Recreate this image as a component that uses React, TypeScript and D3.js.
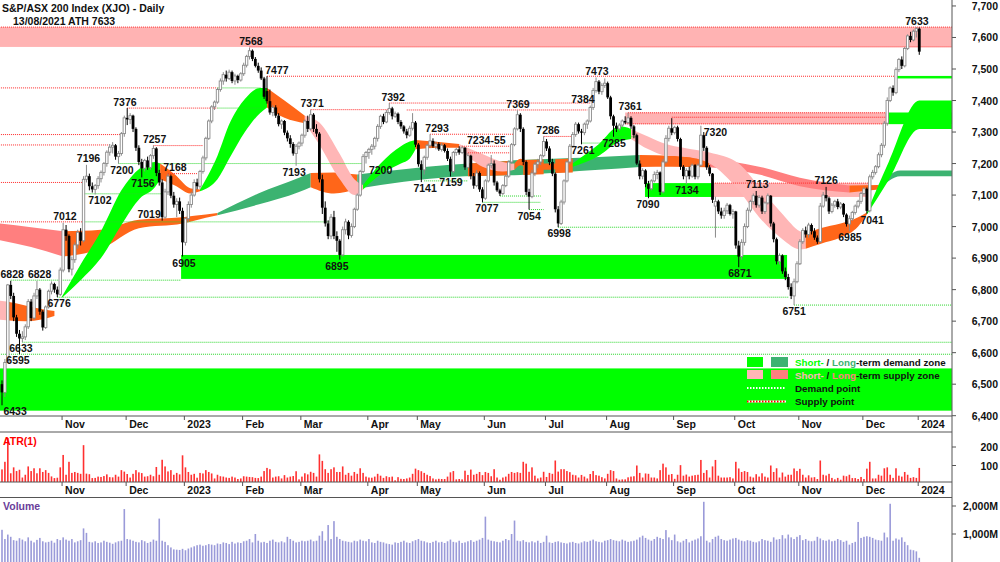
import React from "react";
import * as d3 from "d3";

// daily candles [open, high, low, close], one array per month
const oct2022 = [
  [6500, 6512, 6433, 6474], [6474, 6580, 6460, 6569], [6569, 6818, 6569, 6815], [6815, 6828, 6770, 6780],
  [6780, 6790, 6700, 6712], [6712, 6720, 6650, 6660], [6660, 6672, 6595, 6645], [6645, 6668, 6633, 6650],
  [6650, 6690, 6640, 6682], [6682, 6770, 6675, 6762], [6762, 6770, 6700, 6710], [6710, 6790, 6705, 6780],
  [6780, 6828, 6770, 6800], [6800, 6805, 6720, 6730], [6730, 6735, 6670, 6680], [6680, 6750, 6675, 6745],
  [6745, 6800, 6740, 6795], [6795, 6826, 6785, 6818], [6818, 6822, 6790, 6800], [6800, 6810, 6776, 6785],
  [6785, 6870, 6780, 6862], [6862, 7012, 6855, 6990],
];
const nov2022 = [
  [6990, 7005, 6955, 6970], [6970, 6975, 6855, 6865], [6865, 6905, 6845, 6895], [6895, 6950, 6885, 6942],
  [6942, 6990, 6930, 6982], [6982, 6995, 6940, 6955], [6955, 7160, 6950, 7150], [7150, 7196, 7140, 7160],
  [7160, 7168, 7115, 7128], [7128, 7140, 7108, 7118], [7118, 7135, 7102, 7130], [7130, 7160, 7120, 7152],
  [7152, 7178, 7140, 7172], [7172, 7205, 7162, 7200], [7200, 7242, 7190, 7236], [7236, 7262, 7225, 7252],
  [7252, 7268, 7232, 7258], [7258, 7262, 7212, 7222], [7222, 7240, 7200, 7232], [7232, 7300, 7225, 7295],
  [7295, 7352, 7285, 7345], [7345, 7376, 7322, 7340],
];
const dec2022 = [
  [7340, 7360, 7325, 7352], [7352, 7355, 7300, 7310], [7310, 7315, 7240, 7250], [7250, 7258, 7195, 7205],
  [7205, 7215, 7156, 7185], [7185, 7215, 7175, 7210], [7210, 7222, 7180, 7188], [7188, 7230, 7180, 7225],
  [7225, 7257, 7215, 7248], [7248, 7252, 7160, 7170], [7170, 7180, 7130, 7140], [7140, 7150, 7019, 7030],
  [7030, 7120, 7025, 7110], [7110, 7168, 7100, 7160], [7160, 7165, 7090, 7098], [7098, 7110, 7060, 7070],
  [7070, 7090, 7030, 7080], [7080, 7092, 7040, 7050], [7050, 7060, 6905, 6950], [6950, 7030, 6940, 7025],
];
const jan2023 = [
  [7025, 7080, 7015, 7070], [7070, 7110, 7060, 7100], [7100, 7150, 7095, 7140], [7140, 7152, 7118, 7128],
  [7128, 7180, 7120, 7175], [7175, 7225, 7168, 7218], [7218, 7285, 7210, 7280], [7280, 7340, 7275, 7335],
  [7335, 7385, 7328, 7380], [7380, 7400, 7370, 7395], [7395, 7440, 7390, 7435], [7435, 7470, 7428, 7462],
  [7462, 7490, 7450, 7482], [7482, 7495, 7460, 7470], [7470, 7498, 7465, 7490], [7490, 7495, 7455, 7462],
  [7462, 7485, 7450, 7478], [7478, 7482, 7455, 7465], [7465, 7490, 7460, 7485], [7485, 7520, 7478, 7512],
];
const feb2023 = [
  [7512, 7545, 7505, 7540], [7540, 7568, 7530, 7558], [7558, 7562, 7525, 7532], [7532, 7538, 7505, 7510],
  [7510, 7520, 7488, 7495], [7495, 7505, 7465, 7470], [7470, 7475, 7405, 7412], [7430, 7477, 7390, 7398],
  [7398, 7435, 7355, 7362], [7362, 7385, 7350, 7378], [7378, 7385, 7345, 7352], [7352, 7360, 7318, 7325],
  [7325, 7340, 7310, 7335], [7335, 7338, 7290, 7298], [7298, 7305, 7270, 7280], [7280, 7290, 7250, 7262],
  [7262, 7268, 7225, 7232], [7232, 7262, 7193, 7255], [7255, 7270, 7245, 7265], [7265, 7295, 7255, 7290],
];
const mar2023 = [
  [7290, 7340, 7282, 7335], [7335, 7352, 7300, 7310], [7310, 7371, 7305, 7355], [7355, 7360, 7300, 7310],
  [7310, 7325, 7285, 7295], [7295, 7300, 7140, 7150], [7150, 7165, 7040, 7060], [7060, 7080, 7000, 7010],
  [7010, 7020, 6960, 6970], [6970, 7040, 6960, 7030], [7030, 7050, 6960, 6970], [6970, 6985, 6920, 6955],
  [6955, 6960, 6895, 6910], [6910, 7000, 6905, 6990], [6990, 7025, 6975, 7015], [7015, 7020, 6960, 6972],
  [6972, 7010, 6965, 7000], [7000, 7060, 6995, 7055], [7055, 7105, 7050, 7100], [7100, 7180, 7095, 7175],
  [7175, 7230, 7170, 7222], [7222, 7240, 7200, 7235], [7235, 7250, 7215, 7245],
];
const apr2023 = [
  [7245, 7262, 7228, 7255], [7255, 7285, 7245, 7280], [7280, 7325, 7270, 7318], [7318, 7355, 7310, 7350],
  [7350, 7358, 7325, 7332], [7332, 7370, 7328, 7362], [7362, 7392, 7355, 7375], [7375, 7380, 7340, 7350],
  [7350, 7365, 7345, 7358], [7358, 7362, 7325, 7332], [7332, 7338, 7310, 7318], [7318, 7322, 7295, 7302],
  [7302, 7310, 7280, 7290], [7290, 7320, 7285, 7312], [7312, 7360, 7305, 7330], [7330, 7335, 7252, 7260],
  [7260, 7265, 7190, 7198],
];
const may2023 = [
  [7198, 7210, 7141, 7180], [7180, 7225, 7165, 7220], [7220, 7262, 7212, 7258], [7258, 7293, 7250, 7272],
  [7272, 7280, 7250, 7255], [7255, 7270, 7245, 7262], [7262, 7268, 7240, 7245], [7245, 7265, 7238, 7258],
  [7258, 7262, 7235, 7240], [7240, 7248, 7208, 7215], [7215, 7222, 7159, 7175], [7175, 7240, 7170, 7235],
  [7235, 7250, 7225, 7245], [7245, 7255, 7228, 7235], [7235, 7255, 7230, 7250], [7250, 7252, 7180, 7188],
  [7188, 7234, 7185, 7225], [7225, 7228, 7150, 7160], [7160, 7170, 7120, 7130], [7130, 7180, 7125, 7170],
  [7170, 7175, 7110, 7118], [7118, 7125, 7077, 7090], [7090, 7150, 7085, 7145],
];
const jun2023 = [
  [7145, 7200, 7140, 7195], [7195, 7227, 7185, 7200], [7200, 7210, 7130, 7140], [7140, 7145, 7110, 7115],
  [7115, 7120, 7097, 7105], [7105, 7135, 7100, 7130], [7130, 7165, 7125, 7160], [7160, 7210, 7155, 7205],
  [7205, 7265, 7200, 7260], [7260, 7315, 7255, 7310], [7310, 7369, 7305, 7355], [7355, 7360, 7300, 7310],
  [7310, 7315, 7195, 7205], [7205, 7210, 7100, 7110], [7110, 7120, 7054, 7095], [7095, 7180, 7090, 7170],
  [7170, 7205, 7160, 7198], [7198, 7215, 7185, 7205], [7205, 7230, 7195, 7225], [7225, 7286, 7220, 7270],
  [7270, 7278, 7240, 7248],
];
const jul2023 = [
  [7248, 7255, 7195, 7205], [7205, 7215, 7160, 7168], [7168, 7172, 7045, 7055], [7055, 7065, 6998, 7010],
  [7010, 7085, 7005, 7078], [7078, 7150, 7070, 7145], [7145, 7210, 7140, 7205], [7205, 7262, 7198, 7255],
  [7255, 7300, 7250, 7292], [7292, 7332, 7285, 7325], [7325, 7330, 7295, 7302], [7302, 7310, 7261, 7298],
  [7298, 7330, 7290, 7325], [7325, 7340, 7310, 7335], [7335, 7384, 7330, 7378], [7378, 7440, 7370, 7432],
  [7432, 7473, 7425, 7460], [7460, 7465, 7420, 7428], [7428, 7455, 7418, 7448], [7448, 7470, 7440, 7455],
  [7455, 7460, 7405, 7410],
];
const aug2023 = [
  [7410, 7415, 7340, 7350], [7350, 7355, 7285, 7320], [7320, 7330, 7300, 7310], [7310, 7328, 7305, 7322],
  [7322, 7340, 7315, 7335], [7335, 7350, 7325, 7330], [7330, 7361, 7325, 7345], [7345, 7350, 7310, 7318],
  [7318, 7322, 7280, 7290], [7290, 7295, 7195, 7200], [7200, 7210, 7150, 7160], [7160, 7185, 7150, 7178],
  [7178, 7182, 7125, 7135], [7135, 7145, 7090, 7120], [7120, 7150, 7115, 7145], [7145, 7175, 7140, 7165],
  [7165, 7180, 7150, 7172], [7172, 7175, 7100, 7110], [7110, 7215, 7105, 7205], [7205, 7290, 7200, 7280],
  [7280, 7320, 7270, 7312], [7312, 7344, 7290, 7298], [7298, 7320, 7292, 7315],
];
const sep2023 = [
  [7315, 7320, 7270, 7278], [7278, 7282, 7180, 7190], [7190, 7195, 7150, 7160], [7160, 7185, 7134, 7178],
  [7178, 7190, 7150, 7160], [7160, 7200, 7155, 7195], [7195, 7198, 7150, 7158], [7158, 7200, 7150, 7195],
  [7195, 7320, 7190, 7290], [7290, 7300, 7240, 7250], [7250, 7255, 7180, 7188], [7188, 7195, 7160, 7168],
  [7168, 7170, 7075, 7085], [7065, 7095, 6965, 7080], [7080, 7085, 7040, 7048], [7048, 7060, 7025, 7035],
  [7035, 7060, 7025, 7050], [7050, 7075, 7040, 7068], [7068, 7072, 7035, 7040], [7040, 7055, 7025, 7048],
  [7048, 7050, 6930, 6940],
];
const oct2023 = [
  [6940, 6955, 6871, 6905], [6905, 6960, 6895, 6950], [6950, 7010, 6940, 7000], [7000, 7060, 6995, 7052],
  [7052, 7085, 7045, 7080], [7080, 7105, 7070, 7098], [7098, 7113, 7060, 7068], [7068, 7100, 7060, 7092],
  [7092, 7098, 7040, 7048], [7048, 7080, 7040, 7075], [7075, 7105, 7070, 7098], [7098, 7100, 7000, 7010],
  [7010, 7015, 6950, 6960], [6960, 6965, 6880, 6890], [6890, 6915, 6880, 6908], [6908, 6912, 6850, 6858],
  [6858, 6870, 6830, 6840], [6840, 6850, 6800, 6808], [6808, 6820, 6770, 6780], [6780, 6835, 6751, 6825],
  [6825, 6890, 6820, 6882], [6882, 6960, 6878, 6952],
];
const nov2023 = [
  [6952, 6995, 6945, 6988], [6988, 7000, 6965, 6975], [6975, 7012, 6965, 7005], [7005, 7010, 6975, 6985],
  [6985, 6995, 6958, 6965], [6965, 6972, 6945, 6952], [6952, 7075, 6948, 7065], [7065, 7110, 7060, 7100],
  [7100, 7126, 7080, 7090], [7090, 7095, 7040, 7048], [7048, 7075, 7042, 7068], [7068, 7085, 7060, 7080],
  [7080, 7088, 7055, 7062], [7062, 7078, 7055, 7072], [7072, 7075, 7030, 7038], [7038, 7042, 7000, 7008],
  [7008, 7035, 6985, 7025], [7025, 7050, 7018, 7045], [7045, 7070, 7038, 7065], [7065, 7085, 7058, 7080],
  [7080, 7110, 7072, 7105], [7105, 7125, 7098, 7120],
];
const dec2023 = [
  [7120, 7124, 7041, 7050], [7050, 7165, 7045, 7158], [7158, 7180, 7150, 7172], [7172, 7195, 7165, 7190],
  [7190, 7235, 7185, 7228], [7228, 7265, 7220, 7258], [7258, 7335, 7250, 7328], [7328, 7410, 7320, 7400],
  [7400, 7445, 7395, 7440], [7440, 7448, 7415, 7425], [7425, 7505, 7420, 7498], [7498, 7535, 7490, 7530],
  [7530, 7540, 7500, 7510], [7510, 7570, 7505, 7565], [7565, 7610, 7560, 7605], [7605, 7618, 7585, 7592],
  [7592, 7625, 7588, 7620], [7620, 7633, 7600, 7628], [7628, 7632, 7545, 7555],
];

// daily volume, millions of shares
const volumes2022 = [
  1150, 820, 980, 900, 780, 760, 850, 800, 740, 880, 760, 700, 790, 860, 740, 700, 720, 760, 690, 820, 780, 880,
  800, 760, 820, 700, 740, 780, 1200, 1040, 720, 700, 740, 680, 700, 760, 720, 690, 650, 700, 740, 760, 1890, 820,
  800, 760, 720, 700, 780, 740, 680, 720, 800, 760, 1550, 760, 720, 600, 520, 450, 440, 430, 470, 420,
];
const volumes2023a = [
  480, 520, 560, 600, 620, 580, 600, 640, 620, 600, 660, 640, 700, 680, 640, 720, 660, 700, 680, 740,
  760, 820, 700, 1000, 760, 700, 720, 680, 760, 800, 720, 700, 740, 700, 900, 820, 760, 700, 720, 760,
  740, 760, 800, 740, 760, 940, 1100, 760, 1320, 820, 1460, 900, 820, 760, 740, 720, 700, 760, 740, 800, 760, 740, 820,
  700, 680, 760, 720, 700, 660, 640, 620, 700, 680, 720, 760, 700, 680, 740, 780, 820,
  760, 740, 700, 680, 720, 760, 700, 720, 680, 740, 800, 720, 700, 760, 680, 700, 740, 780, 720, 760, 800, 860, 1620,
  800, 760, 740, 720, 700, 760, 820, 780, 1000, 1480, 760, 740, 780, 720, 700, 740, 700, 760, 680, 720, 940,
];
const volumes2023b = [
  700, 680, 720, 740, 700, 680, 660, 700, 720, 680, 660, 700, 740, 720, 760, 800, 740, 720, 700, 760, 780,
  820, 780, 760, 740, 800, 760, 720, 740, 760, 800, 880, 940, 860, 800, 760, 820, 900, 860, 820, 1140, 880, 780, 980,
  740, 700, 760, 820, 700, 760, 800, 840, 920, 2150, 760, 700, 820, 900, 940, 820, 780, 760, 800, 840, 860,
  800, 760, 740, 780, 760, 720, 700, 740, 820, 780, 760, 720, 880, 800, 820, 960, 840, 980, 880, 820, 900, 960,
  780, 820, 760, 740, 760, 900, 840, 780, 760, 800, 740, 760, 820, 780, 720, 760, 620, 680, 720, 1430, 860, 900,
  920, 900, 860, 800, 780, 760, 1050, 880, 2080, 760, 840, 800, 880, 720, 600, 440, 420, 380, 150,
];

const monthTicks = [
  { label: "Nov", index: 22 }, { label: "Dec", index: 44 }, { label: "2023", index: 64 },
  { label: "Feb", index: 84 }, { label: "Mar", index: 104 }, { label: "Apr", index: 127 },
  { label: "May", index: 144 }, { label: "Jun", index: 167 }, { label: "Jul", index: 188 },
  { label: "Aug", index: 209 }, { label: "Sep", index: 232 }, { label: "Oct", index: 253 },
  { label: "Nov", index: 275 }, { label: "Dec", index: 297 }, { label: "2024", index: 316 },
];
const priceTicks = [6400, 6500, 6600, 6700, 6800, 6900, 7000, 7100, 7200, 7300, 7400, 7500, 7600, 7700];
const atrTicks = [100, 200];
const volumeTicks = [1000, 2000];

// zones: [low, high, fromIndex, toIndex, kind]
const zones = [
  [7570, 7633, -1, 326.2, "pink"],
  [6416, 6550, -1, 326.2, "green"],
  [6834, 6910, 61.5, 269.6, "green"],
  [7325, 7362, 214, 304.3, "pink"],
  [7325, 7362, 304.3, 326.2, "green"],
  [7094, 7138, 220.8, 244.2, "green"],
  [7094, 7138, 244.2, 297.4, "pink"],
  [7470, 7478, 306.7, 326.2, "green"],
];

// supply / demand points: [price, fromIndex, toIndex]
const supplyPoints = [
  [7633, -1, 326.2], [7570, 85, 326.2], [7477, 91, 306.7], [7440, -1, 74], [7376, 43, 74],
  [7292, -1, 41], [7259, -1, 37], [7257, 52, 69], [7140, -1, 28], [7015, -1, 28], [7168, 57, 67],
  [7371, 106, 133], [7392, 133, 202], [7370, 139, 201], [7293, 147, 176], [7255, 158, 175],
  [7234, 160, 175], [7286, 186, 196], [7361, 215, 304.3], [7347, 230, 304.3], [7326, 214, 304.3],
  [7138, 244.2, 297.4],
];
const demandPoints = [
  [6595, -1, 326.2], [6633, 7, 326.2], [6776, 19, 270], [6751, 272, 326.2], [6830, 3, 61.5],
  [7104, 28, 55], [7015, 28, 113], [7200, 40, 124], [7440, 74, 89], [7376, 74, 89],
  [7145, 145, 160], [7097, 171, 185], [7077, 165, 185], [7054, 181, 186], [6998, 191, 252],
  [7285, 210, 218], [7265, 199, 209],
];

// trend ribbons: knots [index, upper, lower]
const longTermRibbon = [
  { kind: "salmon", pts: [[-1, 7010, 6957], [10, 6998, 6935], [21, 6985, 6905]] },
  { kind: "orange", pts: [[21, 6985, 6905], [34, 6990, 6930], [47, 7022, 6995], [62, 7030, 7010], [70, 7038, 7028], [74, 7043, 7036]] },
  { kind: "dkgreen", pts: [[74, 7043, 7036], [88, 7105, 7070], [102, 7155, 7110], [106, 7170, 7125]] },
  { kind: "orange", pts: [[106, 7170, 7125], [114, 7172, 7105], [122, 7165, 7120]] },
  { kind: "dkgreen", pts: [[122, 7165, 7120], [154, 7196, 7157], [178, 7211, 7164], [205, 7221, 7180], [219, 7227, 7189]] },
  { kind: "orange", pts: [[160, 7200, 7160], [167, 7204, 7161], [174, 7208, 7163]] },
  { kind: "orange", pts: [[179, 7211, 7164], [186, 7213, 7166]] },
  { kind: "orange", pts: [[190, 7214, 7170], [196, 7216, 7172]] },
  { kind: "orange", pts: [[219, 7227, 7189], [230, 7225, 7190], [243, 7215, 7188]] },
  { kind: "salmon", pts: [[243, 7215, 7188], [260, 7190, 7165], [274, 7155, 7128], [291, 7130, 7108]] },
  { kind: "orange", pts: [[291, 7130, 7108], [301, 7132, 7118]] },
  { kind: "dkgreen", pts: [[301, 7132, 7118], [308.5, 7178, 7160], [326.2, 7178, 7160]] },
];
const shortTermRibbon = [
  { kind: "pink", pts: [[-1, 6765, 6705], [1.5, 6762, 6703]] },
  { kind: "orange", pts: [[1.5, 6762, 6703], [8, 6750, 6700], [14, 6738, 6706], [18, 6732, 6716]] },
  { kind: "green", pts: [[20.6, 6778, 6774], [27, 6880, 6830], [34, 6985, 6900], [41, 7115, 7005], [47.4, 7185, 7090], [52.5, 7205, 7125], [54.3, 7200, 7150]] },
  { kind: "orange", pts: [[54.3, 7200, 7150], [59.4, 7165, 7130], [64.6, 7122, 7105], [68, 7118, 7112]] },
  { kind: "green", pts: [[68, 7118, 7112], [74, 7225, 7150], [78.3, 7330, 7220], [83.4, 7405, 7300], [88.6, 7440, 7360], [91, 7440, 7378]] },
  { kind: "orange", pts: [[91, 7440, 7378], [97, 7400, 7345], [104, 7352, 7328]] },
  { kind: "pink", pts: [[104, 7352, 7328], [109, 7330, 7260], [116, 7230, 7150], [121, 7150, 7100], [124, 7132, 7118]] },
  { kind: "green", pts: [[124, 7132, 7118], [130, 7200, 7165], [137, 7255, 7200], [140, 7270, 7215], [142, 7275, 7245]] },
  { kind: "orange", pts: [[142, 7275, 7245], [150, 7268, 7250], [157, 7262, 7250]] },
  { kind: "pink", pts: [[157, 7262, 7250], [165, 7230, 7190], [172, 7205, 7175], [176, 7200, 7180]] },
  { kind: "orange", pts: [[176, 7200, 7180], [178, 7215, 7195], [181, 7205, 7185], [186, 7200, 7180], [196, 7200, 7190]] },
  { kind: "green", pts: [[196, 7200, 7190], [205, 7262, 7225], [212, 7318, 7270], [216, 7310, 7278]] },
  { kind: "pink", pts: [[216, 7310, 7278], [222, 7285, 7245], [228, 7262, 7225], [234, 7250, 7222], [243, 7235, 7200], [253, 7200, 7115], [260, 7126, 7030], [268, 7040, 6960], [274, 6985, 6928], [276, 6978, 6930]] },
  { kind: "orange", pts: [[276, 6978, 6930], [281, 6995, 6945], [288, 7010, 6965], [294, 7030, 7000], [297, 7045, 7038]] },
  { kind: "green", pts: [[297, 7045, 7038], [304.5, 7205, 7148], [315, 7400, 7310], [326.2, 7400, 7310]] },
];

const pivotLabels = [
  { i: 4.5, v: 6433, t: "6433", pos: "below" }, { i: 3.5, v: 6828, t: "6828", pos: "above" },
  { i: 12.9, v: 6828, t: "6828", pos: "above" }, { i: 5.5, v: 6595, t: "6595", pos: "below" },
  { i: 6.5, v: 6633, t: "6633", pos: "below" }, { i: 19.6, v: 6776, t: "6776", pos: "below" },
  { i: 21.6, v: 7012, t: "7012", pos: "above" }, { i: 29.7, v: 7196, t: "7196", pos: "above" },
  { i: 33.6, v: 7102, t: "7102", pos: "below" }, { i: 41.2, v: 7200, t: "7200", pos: "below" },
  { i: 42.2, v: 7376, t: "7376", pos: "above" }, { i: 48.4, v: 7156, t: "7156", pos: "below" },
  { i: 52.4, v: 7257, t: "7257", pos: "above" }, { i: 59.4, v: 7168, t: "7168", pos: "above" },
  { i: 50.5, v: 7019, t: "7019", pos: "above" }, { i: 62.5, v: 6905, t: "6905", pos: "below" },
  { i: 85.5, v: 7568, t: "7568", pos: "above" }, { i: 94.4, v: 7477, t: "7477", pos: "above" },
  { i: 100.3, v: 7193, t: "7193", pos: "below" }, { i: 106.5, v: 7371, t: "7371", pos: "above" },
  { i: 115, v: 6895, t: "6895", pos: "below" }, { i: 130, v: 7200, t: "7200", pos: "below" },
  { i: 134.3, v: 7392, t: "7392", pos: "above" }, { i: 145.3, v: 7141, t: "7141", pos: "below" },
  { i: 149.4, v: 7293, t: "7293", pos: "above" }, { i: 154.2, v: 7159, t: "7159", pos: "below" },
  { i: 159.7, v: 7255, t: "7234-55", pos: "above", anchor: "start" },
  { i: 166.5, v: 7077, t: "7077", pos: "below" }, { i: 177.2, v: 7369, t: "7369", pos: "above" },
  { i: 181, v: 7054, t: "7054", pos: "below" }, { i: 187.5, v: 7286, t: "7286", pos: "above" },
  { i: 191.3, v: 6998, t: "6998", pos: "below" }, { i: 199.5, v: 7261, t: "7261", pos: "below" },
  { i: 199.5, v: 7384, t: "7384", pos: "above" }, { i: 204.3, v: 7473, t: "7473", pos: "above" },
  { i: 210.2, v: 7285, t: "7285", pos: "below" }, { i: 215.7, v: 7361, t: "7361", pos: "above" },
  { i: 221.8, v: 7090, t: "7090", pos: "below" }, { i: 235.2, v: 7134, t: "7134", pos: "below" },
  { i: 245, v: 7320, t: "7320", pos: "below" }, { i: 253.4, v: 6871, t: "6871", pos: "below" },
  { i: 259.3, v: 7113, t: "7113", pos: "above" }, { i: 272, v: 6751, t: "6751", pos: "below" },
  { i: 283, v: 7126, t: "7126", pos: "above" }, { i: 291.2, v: 6985, t: "6985", pos: "below" },
  { i: 298.8, v: 7041, t: "7041", pos: "below" }, { i: 314.2, v: 7633, t: "7633", pos: "above" },
];

const candles = [
  ...oct2022, ...nov2022, ...dec2022, ...jan2023, ...feb2023, ...mar2023, ...apr2023, ...may2023,
  ...jun2023, ...jul2023, ...aug2023, ...sep2023, ...oct2023, ...nov2023, ...dec2023,
];
const volumes = [...volumes2022, ...volumes2023a, ...volumes2023b];

const COLORS: Record<string, string> = {
  green: "#00ff00", dkgreen: "#3cb371", pink: "#ffb6b6", salmon: "#ff7f7f", orange: "#ff6619",
};
const FONT = "'Liberation Sans', Arial, sans-serif";
const AXIS_X = 952;
const MAIN_BOTTOM = 416;

export default function App() {
  const x = d3.scaleLinear().domain([0, 315]).range([2, 2 + 315 * 2.912]);
  const y = d3.scaleLinear().domain([6400, 7500]).range([415.7, 69]);
  const yAtr = d3.scaleLinear().domain([0, 200]).range([484, 447]);
  const yVol = d3.scaleLinear().domain([0, 2000]).range([562, 506]);

  const area = d3
    .area<number[]>()
    .x((d) => x(d[0]))
    .y0((d) => y(d[2]))
    .y1((d) => y(d[1]))
    .curve(d3.curveMonotoneX);

  // true range = ATR(1)
  const atr = candles.map(([, h, l], i) => {
    if (i === 0) return h - l;
    const pc = candles[i - 1][3];
    return Math.max(h - l, Math.abs(h - pc), Math.abs(l - pc));
  });

  const txt = { fontFamily: FONT, fontWeight: 700, fontSize: 10.5 } as const;
  const fmt = d3.format(",");

  return (
    <svg width={1000} height={562} style={{ position: "absolute", left: 0, top: 0, background: "#fff" }}>
      <defs>
        <clipPath id="main-clip">
          <rect x={0} y={0} width={AXIS_X} height={MAIN_BOTTOM} />
        </clipPath>
      </defs>

      <g clipPath="url(#main-clip)">
        {zones.map(([lo, hi, a, b, kind], k) => (
          <rect
            key={"z" + k}
            x={x(a as number)}
            y={y(hi as number)}
            width={x(b as number) - x(a as number)}
            height={y(lo as number) - y(hi as number)}
            fill={kind === "pink" ? "#ffb3b3" : "#00ff00"}
          />
        ))}
        {longTermRibbon.map((s, k) => (
          <path key={"lt" + k} d={area(s.pts) || ""} fill={COLORS[s.kind]} />
        ))}
        {shortTermRibbon.map((s, k) => (
          <path key={"st" + k} d={area(s.pts) || ""} fill={COLORS[s.kind]} />
        ))}
        {supplyPoints.map(([v, a, b], k) => (
          <line key={"sp" + k} x1={x(a)} x2={x(b)} y1={y(v)} y2={y(v)} stroke="#ff2a2a" strokeWidth={1} strokeDasharray="1,1" />
        ))}
        {demandPoints.map(([v, a, b], k) => (
          <line key={"dp" + k} x1={x(a)} x2={x(b)} y1={y(v)} y2={y(v)} stroke="#27d627" strokeWidth={1} strokeDasharray="1,1" />
        ))}

        {candles.map(([o, h, l, c], i) => {
          const up = c >= o;
          const cx = x(i);
          const top = y(Math.max(o, c));
          const bot = y(Math.min(o, c));
          return (
            <g key={"c" + i}>
              <line x1={cx} x2={cx} y1={y(h)} y2={y(l)} stroke={up ? "#8a8a8a" : "#000"} strokeWidth={1} />
              {up ? (
                <rect x={cx - 1.2} y={top} width={2.4} height={Math.max(bot - top, 0.8)} fill="#fff" stroke="#8a8a8a" strokeWidth={0.9} />
              ) : (
                <rect x={cx - 1.4} y={top} width={2.8} height={Math.max(bot - top, 1)} fill="#000" />
              )}
            </g>
          );
        })}

        {pivotLabels.map((p, k) => (
          <text
            key={"pl" + k}
            x={x(p.i)}
            y={p.pos === "above" ? y(p.v) - 2.5 : y(p.v) + 10}
            textAnchor={p.anchor === "start" ? "start" : "middle"}
            {...txt}
            fill="#111"
          >
            {p.t}
          </text>
        ))}
      </g>

      {/* title */}
      <text x={2} y={12} {...txt} fill="#111">S&amp;P/ASX 200 Index (XJO) - Daily</text>
      <text x={13} y={25} {...txt} fill="#111">13/08/2021 ATH 7633</text>

      {/* legend */}
      <g fontFamily={FONT} fontWeight={700} fontSize={9.8} fill="#111">
        <rect x={747} y={357} width={16} height={10} fill={COLORS.green} />
        <rect x={771} y={357} width={17} height={10} fill={COLORS.dkgreen} />
        <text x={795} y={366}>
          <tspan fill={COLORS.green}>Short-</tspan>
          <tspan> / </tspan>
          <tspan fill={COLORS.dkgreen}>Long</tspan>
          <tspan>-term demand zone</tspan>
        </text>
        <rect x={747} y={370} width={16} height={9} fill={COLORS.pink} />
        <rect x={771} y={370} width={17} height={9} fill={COLORS.salmon} />
        <text x={795} y={379}>
          <tspan fill={COLORS.pink}>Short-</tspan>
          <tspan> / </tspan>
          <tspan fill={COLORS.salmon}>Long</tspan>
          <tspan>-term supply zone</tspan>
        </text>
        <line x1={747} x2={786} y1={388} y2={388} stroke="#fff" strokeWidth={2} strokeDasharray="1.5,1.5" />
        <text x={795} y={392}>Demand point</text>
        <line x1={747} x2={786} y1={401.5} y2={401.5} stroke="#fff" strokeWidth={2} />
        <line x1={747} x2={786} y1={401.5} y2={401.5} stroke="#ff0000" strokeWidth={2} strokeDasharray="1.5,1.5" />
        <text x={795} y={405}>Supply point</text>
      </g>

      {/* ATR panel */}
      {atr.map((v, i) => (
        <rect key={"a" + i} x={x(i) - 0.8} y={yAtr(v)} width={1.6} height={Math.max(482 - yAtr(v), 0)} fill="#ff3030" />
      ))}
      <text x={3} y={445} {...txt} fill="#ff0000">ATR(1)</text>

      {/* volume panel */}
      {volumes.map((v, i) => (
        <rect key={"v" + i} x={x(i) - 0.8} y={yVol(v)} width={1.6} height={562 - yVol(v)} fill="#9a9ad9" />
      ))}
      <text x={3} y={510} {...txt} fill="#6a3d9a">Volume</text>

      {/* frame lines */}
      <line x1={0} x2={AXIS_X} y1={MAIN_BOTTOM} y2={MAIN_BOTTOM} stroke="#555" />
      <line x1={0} x2={AXIS_X} y1={432} y2={432} stroke="#555" />
      <line x1={0} x2={AXIS_X} y1={482} y2={482} stroke="#555" />
      <line x1={0} x2={AXIS_X} y1={497.5} y2={497.5} stroke="#555" />
      <line x1={AXIS_X} x2={AXIS_X} y1={0} y2={562} stroke="#555" />

      {/* month axis, twice */}
      {[MAIN_BOTTOM, 482].map((base, r) =>
        monthTicks.map((m, k) => {
          const tx = x(m.index) - 4;
          return (
            <g key={"m" + r + "-" + k}>
              <line x1={tx} x2={tx} y1={base} y2={base + 4} stroke="#555" />
              <text x={tx + 3} y={base + 12} {...txt} fill="#111">{m.label}</text>
            </g>
          );
        })
      )}

      {/* right axes */}
      {priceTicks.map((p) => (
        <g key={"p" + p}>
          <line x1={AXIS_X} x2={AXIS_X + 4} y1={y(p)} y2={y(p)} stroke="#555" />
          <text x={998} y={y(p) + 4} textAnchor="end" {...txt} fill="#111">{fmt(p)}</text>
        </g>
      ))}
      {atrTicks.map((p) => (
        <g key={"at" + p}>
          <line x1={AXIS_X} x2={AXIS_X + 4} y1={yAtr(p)} y2={yAtr(p)} stroke="#555" />
          <text x={998} y={yAtr(p) + 4} textAnchor="end" {...txt} fill="#111">{p}</text>
        </g>
      ))}
      {volumeTicks.map((p) => (
        <g key={"vt" + p}>
          <line x1={AXIS_X} x2={AXIS_X + 4} y1={yVol(p)} y2={yVol(p)} stroke="#555" />
          <text x={998} y={yVol(p) + 4} textAnchor="end" {...txt} fill="#111">{fmt(p)}M</text>
        </g>
      ))}
    </svg>
  );
}
